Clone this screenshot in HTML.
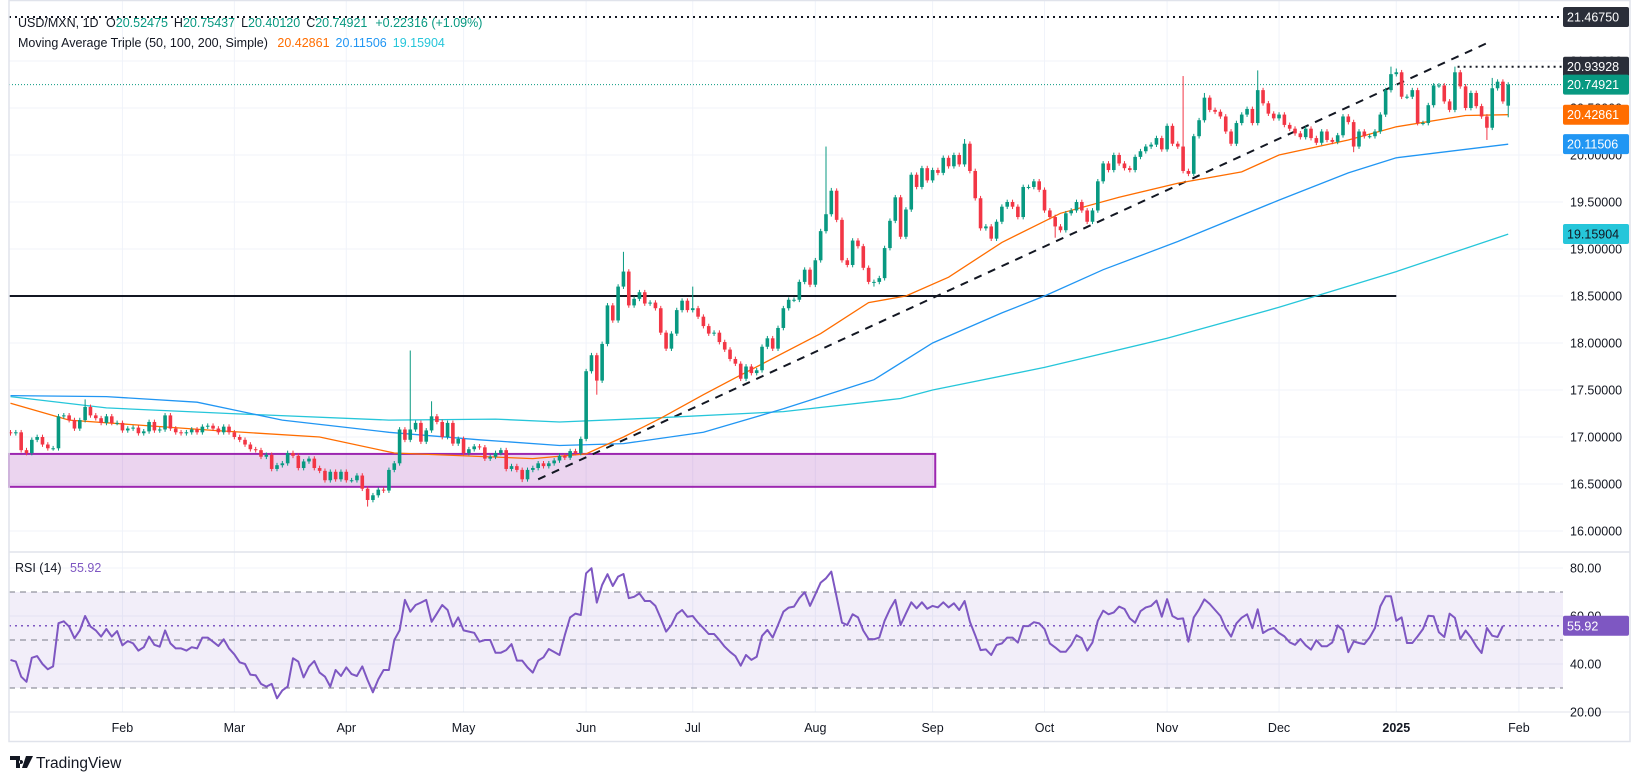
<!DOCTYPE html>
<html><head><meta charset="utf-8">
<style>
html,body{margin:0;padding:0;background:#fff;}
body{width:1641px;height:779px;overflow:hidden;font-family:"Liberation Sans",sans-serif;}
svg text{font-family:"Liberation Sans",sans-serif;}
</style></head>
<body>
<svg id="chart" width="1641" height="779" viewBox="0 0 1641 779" xmlns="http://www.w3.org/2000/svg">
  <rect x="0" y="0" width="1641" height="779" fill="#ffffff"/>
  <g id="grid"></g>
  <g id="zones"></g>
  <g id="mas"></g>
  <g id="candles"></g>
  <g id="rsi"></g>
  <g id="axes"></g>
  <g id="legend">
    <text x="18" y="27" font-size="12.5" fill="#131722">USD/MXN, 1D <tspan dx="4">O</tspan><tspan fill="#089981">20.52475</tspan><tspan dx="6">H</tspan><tspan fill="#089981">20.75437</tspan><tspan dx="6">L</tspan><tspan fill="#089981">20.40120</tspan><tspan dx="6">C</tspan><tspan fill="#089981">20.74921</tspan><tspan dx="8" fill="#089981">+0.22316 (+1.09%)</tspan></text>
    <text x="18" y="47" font-size="12.5" fill="#131722">Moving Average Triple (50, 100, 200, Simple) <tspan dx="6" fill="#ff6d00">20.42861</tspan><tspan dx="6" fill="#2196f3">20.11506</tspan><tspan dx="6" fill="#26c6da">19.15904</tspan></text>
    <text x="15" y="572" font-size="12.5" fill="#131722">RSI (14) <tspan dx="5" fill="#7e57c2">55.92</tspan></text>
  </g>
  <g>
    <path d="M10 756 h10 v12 h-4 v-8 h-6z M21 760 a2 2 0 1 0 0.01 0z M26 756 h7 l-6 12 h-5z" fill="#131722"/>
    <text x="36" y="768" font-size="15.5" fill="#131722">TradingView</text>
  </g>
</svg>
<script>
// ---- data ----
const closes = [17.04,17.05,16.86,16.83,16.97,17.0,16.92,16.88,16.88,17.22,17.23,17.18,17.09,17.18,17.32,17.23,17.2,17.15,17.22,17.15,17.15,17.07,17.09,17.1,17.04,17.06,17.16,17.07,17.08,17.23,17.09,17.05,17.04,17.05,17.08,17.05,17.11,17.12,17.09,17.05,17.11,17.05,17.0,16.97,16.92,16.87,16.86,16.79,16.81,16.66,16.7,16.72,16.83,16.8,16.67,16.74,16.77,16.67,16.64,16.54,16.63,16.55,16.63,16.54,16.54,16.59,16.45,16.33,16.38,16.44,16.43,16.65,16.72,17.08,16.97,17.08,17.15,16.95,17.07,17.22,17.16,17.0,17.15,16.93,16.98,16.83,16.87,16.9,16.89,16.77,16.79,16.83,16.86,16.66,16.69,16.65,16.55,16.65,16.67,16.72,16.69,16.72,16.75,16.8,16.78,16.85,16.83,16.98,17.7,17.87,17.6,17.99,18.4,18.24,18.6,18.76,18.4,18.47,18.54,18.42,18.43,18.37,18.11,17.94,18.1,18.35,18.45,18.35,18.37,18.28,18.18,18.1,18.11,18.01,17.93,17.83,17.78,17.62,17.75,17.68,17.71,17.96,18.05,17.94,18.16,18.37,18.46,18.46,18.65,18.78,18.62,18.88,19.19,19.37,19.62,19.31,18.88,18.83,19.09,19.03,18.8,18.65,18.65,18.69,19.01,19.3,19.55,19.13,19.42,19.79,19.66,19.86,19.73,19.84,19.81,19.97,19.88,20.0,19.9,20.12,19.83,19.54,19.22,19.24,19.11,19.29,19.45,19.5,19.45,19.34,19.66,19.66,19.72,19.63,19.41,19.34,19.24,19.2,19.38,19.41,19.5,19.41,19.29,19.41,19.72,19.91,19.84,20.0,19.91,19.86,19.84,19.98,20.04,20.09,20.11,20.18,20.06,20.31,20.12,20.09,19.83,19.8,20.2,20.37,20.61,20.48,20.46,20.41,20.25,20.12,20.34,20.43,20.49,20.34,20.69,20.55,20.44,20.39,20.43,20.32,20.28,20.23,20.19,20.28,20.18,20.13,20.25,20.16,20.14,20.21,20.41,20.35,20.09,20.25,20.2,20.2,20.25,20.43,20.69,20.86,20.88,20.62,20.62,20.69,20.34,20.34,20.53,20.74,20.74,20.57,20.48,20.88,20.73,20.5,20.66,20.52,20.41,20.29,20.71,20.78,20.57,20.74921];
const firstOpen = 17.05;
const lastOpen = 20.52475;
const wickHighIdx = [14,75,79,115,128,153,154,179,220,224,234,259,260,271,278];
const wickHighVal = [17.4,17.92,17.38,18.97,18.6,20.09,19.65,20.17,20.84,20.66,20.9,20.94,20.92,20.94,20.82];
const wickLowIdx = [67,96,110,137,162,196,252,277,281];
const wickLowVal = [16.26,16.52,17.45,17.6,18.6,19.12,20.03,20.16,20.4012];

const ma50Idx = [0,11,38,58,72,98,108,115,122,130,136,152,161,168,176,186,197,208,219,231,238,251,260,273,281];
const ma50Val = [17.36,17.18,17.07,17.0,16.83,16.77,16.82,17.0,17.2,17.45,17.63,18.1,18.43,18.5,18.7,19.07,19.38,19.55,19.7,19.82,20.0,20.16,20.3,20.42,20.42861];
const ma100Idx = [0,18,35,51,71,88,103,115,130,145,162,173,186,194,205,219,238,251,260,281];
const ma100Val = [17.44,17.43,17.37,17.18,17.05,16.97,16.91,16.93,17.05,17.3,17.61,18.0,18.32,18.5,18.78,19.08,19.52,19.81,19.97,20.11506];
const ma200Idx = [0,18,41,71,91,103,120,145,167,173,194,217,238,260,281];
const ma200Val = [17.43,17.31,17.25,17.18,17.19,17.16,17.2,17.27,17.41,17.5,17.74,18.05,18.38,18.76,19.15904];

const rsiVals = [41.7,41,34.7,32.6,42.6,43.3,40,37.8,39,57,57.8,55.6,50.7,54,60,55.6,54,51.4,54.6,51.4,53.7,47.8,49.6,48.6,45.6,47,51.4,48,47.2,54,48.6,46.5,46.5,45.6,47,46.5,51,51,49.3,47.5,50.3,46.5,44,40.7,40,35.6,35.3,31.7,30.6,31.7,25.7,29,30.6,42.4,41,34.4,38.9,41.25,36.4,34.7,30.6,37.5,35,38.6,35.8,35,39,33.3,28.2,33.6,37.5,37.5,50,54,66.7,61.8,64.6,65.6,66.7,57.6,61,64.6,62.5,55.6,59.4,54,53.5,53,49.3,50,50,44.7,44.7,45.8,48.3,41.4,41.4,38.6,36.4,41.4,42.8,46.25,45,43.75,52,59.4,61,60.4,77.8,79.9,65.6,72.9,77.4,72.5,76.4,77.5,67.4,68,69.4,66.25,66.25,64.2,59,
53.5,56.25,60.8,62.5,59.7,60,57.2,54.9,52.5,52.5,50,47.2,45.1,43.3,39.3,43.75,41.7,43,51.7,54.2,51,56.25,61.8,63.5,63.9,67.4,69.9,64.2,69,73.9,75.7,78.5,68,57.2,56.25,60.7,59.4,53.9,50.4,50.3,51,58,62.9,66.7,56.25,61,65.7,63.2,65.7,63,64.2,63.6,65.7,63.6,65.3,62.5,66.25,57.6,52,45.8,46.1,43.75,47.9,48.6,51,51,48.9,55.8,55.8,57.4,56.9,54.6,48.6,46.9,45.1,45.1,47.9,52,50.7,45.6,49,58,62.2,60.7,61.5,63.9,62.9,59,57.2,62,63.6,64.2,66.4,59.7,67,60,58.75,59,49.3,59.4,62.8,66.9,65,62.5,60,54.9,51.4,56.9,59.3,60.7,54.9,62.8,
52.9,54.3,55,52.9,51.5,49,48,50.4,47.8,46,49.9,47.4,47.4,49,56.1,54,44.9,49.4,48.75,48.3,51.1,55,64,68.2,68.2,58,59.4,48.75,48.75,51.5,54.6,60.1,59.9,53.2,51.25,61,59.2,50.4,53.9,51.1,47.4,44.6,55,51.8,51.25,55.92];

const priceTicks = [16,16.5,17,17.5,18,18.5,19,19.5,20,20.5,21];
const priceTickLabels = ["16.00000","16.50000","17.00000","17.50000","18.00000","18.50000","19.00000","19.50000","20.00000","20.50000","21.00000"];
const rsiTicks = [20,40,60,80];
const rsiTickLabels = ["20.00","40.00","60.00","80.00"];
const monthIdx = [21,42,63,85,108,128,151,173,194,217,238,260,283];
const monthLabels = ["Feb","Mar","Apr","May","Jun","Jul","Aug","Sep","Oct","Nov","Dec","2025","Feb"];

const trendStart = [99,16.55];
const trendEnd = [277,21.19];
const supportLevel = 18.5;
const supportEndIdx = 260;
const boxTop = 16.82, boxBottom = 16.47, boxEndIdx = 173.5;
const highLevel = 21.4675, recentHigh = 20.93928, recentHighIdx = 271.5, lastClose = 20.74921;
const maLast = [20.42861,20.11506,19.15904];
const rsiLast = 55.92;

// ---- scales ----
const PL = 9, PR = 1563, MB = 552, RB = 712;
function X(i){ return 10.5 + i*5.33; }
function Y(p){ return 531 - (p-16)*94; }
function RY(v){ return 640 - (v-50)*2.4; }
const NS = "http://www.w3.org/2000/svg";
function mk(tag, attrs, parent){
  const e = document.createElementNS(NS, tag);
  for (const k in attrs) e.setAttribute(k, attrs[k]);
  parent.appendChild(e); return e;
}
const grid = document.getElementById('grid');
const zones = document.getElementById('zones');
const mas = document.getElementById('mas');
const cg = document.getElementById('candles');
const rg = document.getElementById('rsi');
const ax = document.getElementById('axes');

let fr = mk('rect',{x:PL,y:0.5,width:1630-PL,height:741,fill:'none',stroke:'#e0e3eb','stroke-width':1.5},ax);


let sep = mk('line',{x1:PL,x2:1630,y1:MB,y2:MB,stroke:'#e0e3eb','stroke-width':1.5},ax);


let sep2 = mk('line',{x1:PL,x2:1630,y1:RB,y2:RB,stroke:'#e0e3eb','stroke-width':1},ax);



priceTicks.forEach((p,k)=>{
  const l = mk('line',{x1:PL,x2:PR,y1:Y(p),y2:Y(p),stroke:'#f0f3fa','stroke-width':1},grid);
  
  
  const t = mk('text',{x:1570,y:Y(p)+4.5,'font-size':12.5,fill:'#131722'},ax);
  t.textContent = priceTickLabels[k];
  
  
});
rsiTicks.forEach((v,k)=>{
  const l = mk('line',{x1:PL,x2:PR,y1:RY(v),y2:RY(v),stroke:'#f0f3fa','stroke-width':1},grid);
  
  
  const t = mk('text',{x:1570,y:RY(v)+4.5,'font-size':12.5,fill:'#131722'},ax);
  t.textContent = rsiTickLabels[k];
  
  
});
monthIdx.forEach((i,k)=>{
  const l = mk('line',{x1:X(i),x2:X(i),y1:0,y2:RB,stroke:'#f0f3fa','stroke-width':1},grid);
  
  
  const t = mk('text',{x:X(i),y:732,'font-size':12.5,fill:'#131722','text-anchor':'middle','font-weight':monthLabels[k]==='2025'?'bold':'normal'},ax);
  t.textContent = monthLabels[k];
  
  
});

let box = mk('rect',{x:PL,y:Y(boxTop),width:X(boxEndIdx)-PL,height:Y(boxBottom)-Y(boxTop),fill:'rgba(156,39,176,0.2)',stroke:'#9c27b0','stroke-width':2},zones);


let hl = mk('line',{x1:PL,x2:X(supportEndIdx),y1:Y(supportLevel),y2:Y(supportLevel),stroke:'#131722','stroke-width':2},zones);


let tl = mk('line',{x1:X(trendStart[0]),y1:Y(trendStart[1]),x2:X(trendEnd[0]),y2:Y(trendEnd[1]),stroke:'#131722','stroke-width':2,'stroke-dasharray':'8 7'},zones);


let hh = mk('line',{x1:PL,x2:PR,y1:Y(highLevel),y2:Y(highLevel),stroke:'#131722','stroke-width':2,'stroke-dasharray':'2 4'},zones);


let rh = mk('line',{x1:X(recentHighIdx),x2:PR,y1:Y(recentHigh),y2:Y(recentHigh),stroke:'#131722','stroke-width':2,'stroke-dasharray':'2 4'},zones);


let pl = mk('line',{x1:PL,x2:PR,y1:Y(lastClose),y2:Y(lastClose),stroke:'#089981','stroke-width':1,'stroke-dasharray':'1 2'},zones);



function maPath(idx, val){ return idx.map((i,k)=>(k?'L':'M')+X(i).toFixed(1)+' '+Y(val[k]).toFixed(1)).join(' '); }
let m200 = mk('path',{d:maPath(ma200Idx,ma200Val),fill:'none',stroke:'#26c6da','stroke-width':1.3},mas);


let m100 = mk('path',{d:maPath(ma100Idx,ma100Val),fill:'none',stroke:'#2196f3','stroke-width':1.3},mas);


let m50 = mk('path',{d:maPath(ma50Idx,ma50Val),fill:'none',stroke:'#ff6d00','stroke-width':1.3},mas);



closes.forEach((c,i)=>{
  let o = i===0 ? firstOpen : (i===closes.length-1 ? lastOpen : closes[i-1]);
  let hi = Math.max(o,c)+0.025, lo = Math.min(o,c)-0.025;
  const hk = wickHighIdx.indexOf(i); if (hk>=0) hi = Math.max(hi, wickHighVal[hk]);
  const lk = wickLowIdx.indexOf(i); if (lk>=0) lo = Math.min(lo, wickLowVal[lk]);
  const col = c>=o ? '#089981' : '#f23645';
  const g = mk('g',{},cg);
  
  
  mk('line',{x1:X(i),x2:X(i),y1:Y(hi),y2:Y(lo),stroke:col,'stroke-width':1},g);
  const top = Y(Math.max(o,c)), bot = Y(Math.min(o,c));
  mk('rect',{x:X(i)-1.8,y:top,width:3.6,height:Math.max(1,bot-top),fill:col},g);
});

let band = mk('rect',{x:PL,y:RY(70),width:PR-PL,height:RY(30)-RY(70),fill:'rgba(126,87,194,0.1)'},rg);


[70,50,30].forEach(v=>{
  const l = mk('line',{x1:PL,x2:PR,y1:RY(v),y2:RY(v),stroke:'#787b86','stroke-width':1,'stroke-dasharray':'6 5'},rg);
  
  
});
let rl = mk('line',{x1:PL,x2:PR,y1:RY(rsiLast),y2:RY(rsiLast),stroke:'#7e57c2','stroke-width':1.5,'stroke-dasharray':'2 4'},rg);


let rp = mk('path',{d:rsiVals.map((v,i)=>(i?'L':'M')+X(i).toFixed(1)+' '+RY(v).toFixed(1)).join(' '),fill:'none',stroke:'#7e57c2','stroke-width':2,'stroke-linejoin':'round'},rg);



function tag(val, txt, bg, fg, name){
  const g = mk('g',{},ax);
  
  
  mk('rect',{x:1563,y:val-10,width:66,height:20,rx:2,fill:bg},g);
  const t = mk('text',{x:1567,y:val+4.5,'font-size':12.5,fill:fg},g);
  t.textContent = txt;
}
tag(Y(highLevel),'21.46750','#2a2e39','#ffffff','high-level-tag');
tag(Y(recentHigh),'20.93928','#2a2e39','#ffffff','recent-high-tag');
tag(Y(lastClose),'20.74921','#089981','#ffffff','last-price-tag');
tag(Y(maLast[0]),'20.42861','#ff6d00','#ffffff','ma50-tag');
tag(Y(maLast[1]),'20.11506','#2196f3','#ffffff','ma100-tag');
tag(Y(maLast[2]),'19.15904','#26c6da','#131722','ma200-tag');
tag(RY(rsiLast),'55.92','#7e57c2','#ffffff','rsi-tag');
</script>
</body></html>
